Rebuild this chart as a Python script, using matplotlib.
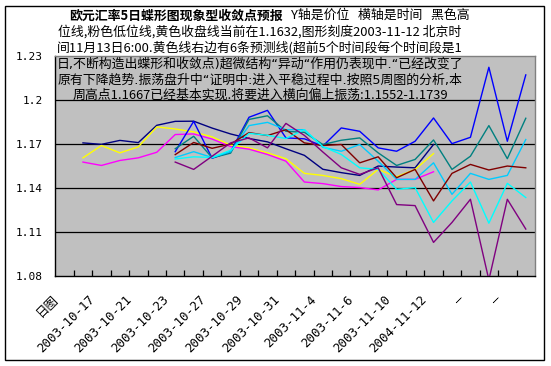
import numpy as np
import matplotlib
matplotlib.use("Agg")
import matplotlib.pyplot as plt
from matplotlib.patches import Rectangle
from matplotlib.transforms import ScaledTranslation

plt.rcParams['font.family'] = ['Noto Sans CJK SC', 'DejaVu Sans']

nan = np.nan
categories = ['日图', '', '2003-10-17', '', '2003-10-21', '', '2003-10-23', '',
              '2003-10-27', '', '2003-10-29', '', '2003-10-31', '', '2003-11-4', '',
              '2003-11-6', '', '2003-11-10', '', '2004-11-12', '', '—', '', '—', '']

high_navy = [nan, 1.1705, 1.1695, 1.1722, 1.1707, 1.1825, 1.1852, 1.1853, 1.1806, 1.1766,
             1.1735, 1.1712, 1.1665, 1.1620, 1.1525, 1.1502, 1.1483, 1.1547, 1.1540, 1.1535,
             1.1694, nan, nan, nan, nan, nan]
close_yellow = [nan, 1.1603, 1.1687, 1.1637, 1.1678, 1.1814, 1.1800, 1.1780, 1.1746, 1.1690,
                1.1671, 1.1637, 1.1597, 1.1497, 1.1483, 1.1461, 1.1422, 1.1524, 1.1474, 1.1524,
                1.1632, nan, nan, nan, nan, nan]
low_magenta = [nan, 1.1574, 1.1551, 1.1585, 1.1603, 1.1641, 1.1762, 1.1766, 1.1731, 1.1680,
               1.1662, 1.1626, 1.1580, 1.1438, 1.1427, 1.1407, 1.1400, 1.1384, 1.1456, 1.1456,
               1.1508, nan, nan, nan, nan, nan]

pred_blue = [nan] * 6 + [1.1645, 1.1852, 1.1600, 1.1645, 1.1880, 1.1927, 1.1739, 1.1733, 1.1683,
                         1.1807, 1.1784, 1.1671, 1.1648, 1.1716, 1.1875, 1.1700, 1.1743, 1.2221,
                         1.1716, 1.2169]
pred_teal = [nan] * 6 + [1.1665, 1.1750, 1.1603, 1.1635, 1.1865, 1.1890, 1.1784, 1.1777, 1.1694,
                         1.1723, 1.1739, 1.1637, 1.1551, 1.1592, 1.1725, 1.1524, 1.1614, 1.1823,
                         1.1597, 1.1873]
pred_skyblue = [nan] * 6 + [1.1605, 1.1645, 1.1605, 1.1645, 1.1823, 1.1845, 1.1795, 1.1795, 1.1675,
                            1.1648, 1.1694, 1.1580, 1.1456, 1.1456, 1.1569, 1.1354, 1.1497, 1.1456,
                            1.1483, 1.1728]
pred_darkred = [nan] * 6 + [1.1625, 1.1708, 1.1668, 1.1697, 1.1775, 1.1755, 1.1795, 1.1705, 1.1687,
                            1.1694, 1.1569, 1.1610, 1.1467, 1.1524, 1.1309, 1.1497, 1.1558, 1.1520,
                            1.1547, 1.1535]
pred_cyan = [nan] * 6 + [1.1595, 1.1610, 1.1605, 1.1655, 1.1770, 1.1757, 1.1735, 1.1795, 1.1680,
                         1.1626, 1.1535, 1.1524, 1.1388, 1.1400, 1.1162, 1.1309, 1.1438, 1.1157,
                         1.1429, 1.1332]
pred_purple = [nan] * 6 + [1.1574, 1.1524, 1.1614, 1.1705, 1.1739, 1.1671, 1.1838, 1.1756, 1.1643,
                           1.1535, 1.1490, 1.1535, 1.1284, 1.1277, 1.1026, 1.1162, 1.1320, 1.0770,
                           1.1320, 1.1117]

yticks = [1.08, 1.11, 1.14, 1.17, 1.2, 1.23]
ytick_labels = ['1.08', '1.11', '1.14', '1.17', '1.2', '1.23']

W, H = 551, 366
fig = plt.figure(figsize=(W / 100, H / 100), dpi=100)
fig.patch.set_facecolor('white')

# outer frame
fig.patches.append(Rectangle((5 / W, 1 - 359.5 / H), (544 - 5) / W, (359.5 - 5.5) / H,
                             transform=fig.transFigure, fill=False, edgecolor='black',
                             linewidth=1.0))

L, R, T, B = 55.3, 535, 55.7, 275.5
ax = fig.add_axes([L / W, 1 - B / H, (R - L) / W, (B - T) / H])
ax.set_facecolor('#C0C0C0')

n = len(categories)
x = np.arange(n)
ax.set_xlim(-0.5, n - 0.5)
ax.set_ylim(1.08, 1.23)

for yv in [1.11, 1.14, 1.17, 1.2]:
    ax.axhline(yv, color='black', lw=0.9, zorder=1)

series = [
    (high_navy, '#000080'),
    (close_yellow, '#FFFF00'),
    (low_magenta, '#FF00FF'),
    (pred_blue, '#0000FF'),
    (pred_teal, '#008080'),
    (pred_skyblue, '#00CCFF'),
    (pred_darkred, '#800000'),
    (pred_cyan, '#00FFFF'),
    (pred_purple, '#800080'),
]
for vals, col in series:
    ax.plot(x, vals, color=col, lw=1.0, zorder=3, clip_on=True)

for side in ['top', 'right']:
    ax.spines[side].set_color('#808080')
    ax.spines[side].set_linewidth(1.0)
for side in ['left', 'bottom']:
    ax.spines[side].set_color('black')
    ax.spines[side].set_linewidth(1.0)

ax.set_yticks(yticks)
ax.set_yticklabels(ytick_labels, family='DejaVu Sans Mono', fontsize=8)
ax.tick_params(axis='y', length=0, pad=9)

major = [i for i, c in enumerate(categories) if c]
ax.set_xticks(major)
ax.set_xticklabels([categories[i] for i in major], rotation=45, ha='right', va='top',
                   rotation_mode='anchor', fontsize=9,
                   family=['DejaVu Sans Mono', 'Noto Sans CJK SC'])
ax.set_xticks(np.arange(0.5, n - 0.5, 1.0), minor=True)
ax.tick_params(axis='x', which='major', length=0, pad=12.5)
ax.tick_params(axis='x', which='minor', direction='in', length=4, width=0.9, color='black')
off = ScaledTranslation(-13 / 100, 0, fig.dpi_scale_trans)
for lab in ax.get_xticklabels():
    lab.set_transform(lab.get_transform() + off)

fs = 9.3
def fy(ypx):
    return 1 - ypx / H

fig.text(283 / W, fy(15.3), '欧元汇率5日蝶形图现象型收敛点预报', ha='right', va='center',
         fontsize=fs, fontweight='bold', zorder=10)
fig.text(291 / W, fy(15.3), 'Y轴是价位   横轴是时间   黑色高', ha='left', va='center',
         fontsize=fs, zorder=10)
lines = [
    '位线,粉色低位线,黄色收盘线当前在1.1632,图形刻度2003-11-12 北京时',
    '间11月13日6:00.黄色线右边有6条预测线(超前5个时间段每个时间段是1',
    '日,不断构造出蝶形和收敛点)超微结构“异动“作用仍表现中.“已经改变了',
    '原有下降趋势.振荡盘升中“证明中:进入平稳过程中.按照5周图的分析,本',
    '周高点1.1667已经基本实现.将要进入横向偏上振荡:1.1552-1.1739',
]
ys = [31.7, 48.0, 64.3, 80.4, 94.7]
fams = [None, None, ['DejaVu Sans', 'Noto Sans CJK SC'], ['DejaVu Sans', 'Noto Sans CJK SC'], None]
for t, yy, fam in zip(lines, ys, fams):
    kw = {} if fam is None else {'family': fam}
    fig.text(260 / W, fy(yy), t, ha='center', va='center', fontsize=fs, zorder=10, **kw)

fig.savefig('out.png', dpi=100, facecolor='white')
